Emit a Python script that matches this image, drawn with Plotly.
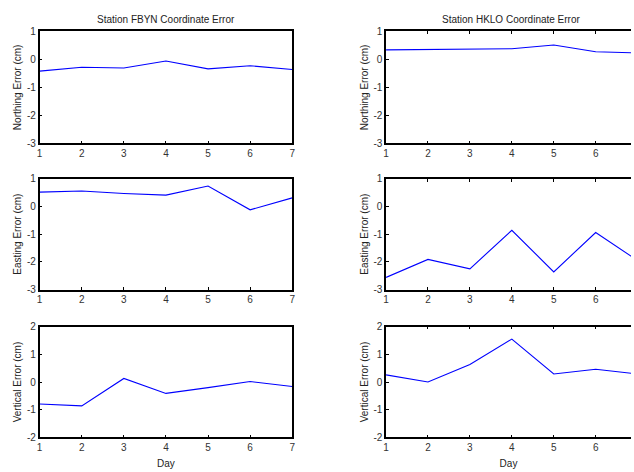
import plotly.graph_objects as go

days = [1, 2, 3, 4, 5, 6, 7]

fbyn_north = [-0.42, -0.28, -0.31, -0.06, -0.34, -0.23, -0.36]
fbyn_east = [0.52, 0.56, 0.47, 0.41, 0.74, -0.12, 0.31]
fbyn_vert = [-0.79, -0.86, 0.13, -0.41, -0.20, 0.02, -0.16]

hklo_north = [0.34, 0.36, 0.37, 0.38, 0.51, 0.27, 0.23]
hklo_east = [-2.56, -1.91, -2.25, -0.86, -2.36, -0.94, -1.95]
hklo_vert = [0.26, 0.00, 0.63, 1.55, 0.29, 0.46, 0.29]

titles = ["Station FBYN Coordinate Error", "Station HKLO Coordinate Error"]
ylabels = ["Northing Error (cm)", "Easting Error (cm)", "Vertical Error (cm)"]
ytickvals = [[-3, -2, -1, 0, 1], [-3, -2, -1, 0, 1], [-2, -1, 0, 1, 2]]
yticktext = [["-3", "-2", "-1", "0", "1"], ["-3", "-2", "-1", "0", "1"], ["-2", "-1", "0", "1", "2"]]
xlabel = "Day"

W, H = 634, 472
xdom = [[37 / W, 292 / W], [386.7 / W, 1.0]]
xranges = [[1, 7], [1, 1 + (634 - 386.7) / 42.33]]
ydom = [[1 - 141 / H, 1 - 26 / H], [1 - 291 / H, 1 - 177.3 / H], [1 - 442.7 / H, 1 - 329 / H]]

series = [[fbyn_north, fbyn_east, fbyn_vert], [hklo_north, hklo_east, hklo_vert]]

fig = go.Figure()
font = dict(family="Liberation Sans, Arial, sans-serif", size=10, color="#222222")
tickfont = dict(family="Liberation Sans, Arial, sans-serif", size=10, color="#333333")

layout = {}
idx = 0
for c in range(2):
    for r in range(3):
        idx += 1
        xa = "xaxis" if idx == 1 else f"xaxis{idx}"
        ya = "yaxis" if idx == 1 else f"yaxis{idx}"
        xref = "x" if idx == 1 else f"x{idx}"
        yref = "y" if idx == 1 else f"y{idx}"
        fig.add_trace(go.Scatter(x=days, y=series[c][r], mode="lines",
                                 line=dict(color="#0000ff", width=1.1),
                                 xaxis=xref, yaxis=yref, showlegend=False))
        layout[xa] = dict(domain=xdom[c], range=xranges[c], anchor=yref,
                          tickvals=days, ticks="inside", ticklen=3, tickcolor="black",
                          showline=True, linecolor="black", linewidth=1.5,
                          mirror=True if c == 0 else "ticks",
                          showgrid=False, zeroline=False, tickfont=tickfont,
                          title=dict(text=xlabel if r == 2 else "", font=font, standoff=8))
        lo, hi = ytickvals[r][0], ytickvals[r][-1]
        layout[ya] = dict(domain=ydom[r], range=[lo, hi], anchor=xref,
                          tickvals=ytickvals[r], ticktext=yticktext[r],
                          ticks="inside", ticklen=3, tickcolor="black",
                          showline=True, linecolor="black", linewidth=1.5,
                          mirror=True if c == 0 else False,
                          showgrid=False, zeroline=False, tickfont=tickfont,
                          title=dict(text=ylabels[r], font=font, standoff=3))

annotations = []
for c in range(2):
    annotations.append(dict(text=titles[c], x=(xdom[c][0] + (292 / W if c == 0 else 640.7 / W)) / 2,
                            y=1 - 14 / H, xref="paper", yref="paper",
                            showarrow=False, font=font, xanchor="center", yanchor="middle"))

fig.update_layout(width=W, height=H, margin=dict(l=0, r=0, t=0, b=0),
                  paper_bgcolor="white", plot_bgcolor="white",
                  annotations=annotations, **layout)

fig.write_html("out.html")
